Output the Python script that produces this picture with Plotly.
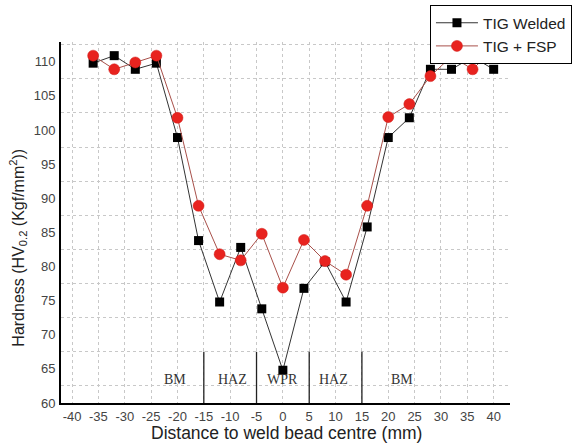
import plotly.graph_objects as go

distance = [-36, -32, -28, -24, -20, -16, -12, -8, -4, 0, 4, 8, 12, 16, 20, 24, 28, 32, 36, 40]
tig_welded = [109.8, 110.9, 108.9, 109.8, 98.9, 83.8, 74.8, 82.8, 73.8, 64.8,
              76.8, 80.7, 74.8, 85.8, 98.9, 101.8, 108.9, 108.9, 110.7, 108.9]
tig_fsp = [110.9, 108.9, 109.9, 110.9, 101.8, 88.9, 81.8, 80.9, 84.8, 76.9,
           83.9, 80.8, 78.8, 88.9, 101.9, 103.8, 107.9, 110.8, 108.9, 111.9]

x_ticks = list(range(-40, 41, 5))
y_ticks = list(range(60, 111, 5))

zone_labels = ["BM", "HAZ", "WPR", "HAZ", "BM"]
zone_label_x = [-20.4, -9.6, 0, 9.6, 22.7]
zone_label_y = 63.5
zone_bounds = [-15, -5, 5, 15]
zone_bound_top = 67.5

x_title = "Distance to weld bead centre (mm)"
y_title = "Hardness (HV<sub>0.2</sub> (Kgf/mm<sup>2</sup>))"

fig = go.Figure()
fig.add_trace(go.Scatter(
    x=distance, y=tig_welded, name="TIG Welded", mode="lines+markers",
    line=dict(color="#333333", width=1),
    marker=dict(symbol="square", size=9, color="black"),
))
fig.add_trace(go.Scatter(
    x=distance, y=tig_fsp, name="TIG + FSP", mode="lines+markers",
    line=dict(color="#a8504a", width=1),
    marker=dict(symbol="circle", size=11, color="#e8231f", line=dict(color="#d01a17", width=0.5)),
))

for xb in zone_bounds:
    fig.add_shape(type="line", xref="x", yref="y", x0=xb, x1=xb, y0=60, y1=zone_bound_top,
                  line=dict(color="#222222", width=1.3))

for lab, xl in zip(zone_labels, zone_label_x):
    fig.add_annotation(x=xl, y=zone_label_y, xref="x", yref="y", text=lab, showarrow=False,
                       font=dict(family="Liberation Serif, Times New Roman, serif", size=14, color="#333333"))

fig.add_annotation(x=0.503, y=-0.084, xref="paper", yref="paper", text=x_title, showarrow=False,
                   xanchor="center", yanchor="middle",
                   font=dict(size=17.5, color="#222222"))
fig.add_annotation(x=-0.096, y=0.43, xref="paper", yref="paper", text=y_title, showarrow=False,
                   textangle=-90, xanchor="center", yanchor="middle",
                   font=dict(size=16, color="#222222"))

fig.update_layout(
    width=574, height=445,
    margin=dict(l=61, r=64, t=42, b=42, autoexpand=False),
    paper_bgcolor="white", plot_bgcolor="white",
    font=dict(family="Arial, Liberation Sans, sans-serif", color="#333333"),
    showlegend=True,
    legend=dict(
        x=1.138, y=1.102, xanchor="right", yanchor="top",
        bordercolor="black", borderwidth=1, bgcolor="white",
        font=dict(size=15.5, color="#222222"),
        tracegroupgap=0, itemwidth=42,
    ),
    xaxis=dict(
        range=[-42.1, 43.1], tickmode="array", tickvals=x_ticks,
        ticktext=[str(v) for v in x_ticks],
        showline=True, linecolor="black", linewidth=2,
        showgrid=True, gridcolor="#c8c8c8", gridwidth=1, griddash="dot",
        zeroline=False, ticks="", ticklabelstandoff=0, automargin=False,
        tickfont=dict(size=13, color="#444444"),
    ),
    yaxis=dict(
        range=[60, 112.9], tickmode="array", tickvals=y_ticks,
        ticktext=[str(v) for v in y_ticks],
        showline=True, linecolor="black", linewidth=2,
        showgrid=False, zeroline=False, ticks="", ticklabelstandoff=1, automargin=False,
        tickfont=dict(size=13, color="#444444"),
        minor=dict(tick0=62.5, dtick=5, showgrid=True, gridcolor="#c8c8c8", gridwidth=1, griddash="dot"),
    ),
)

fig.write_html("out.html")
